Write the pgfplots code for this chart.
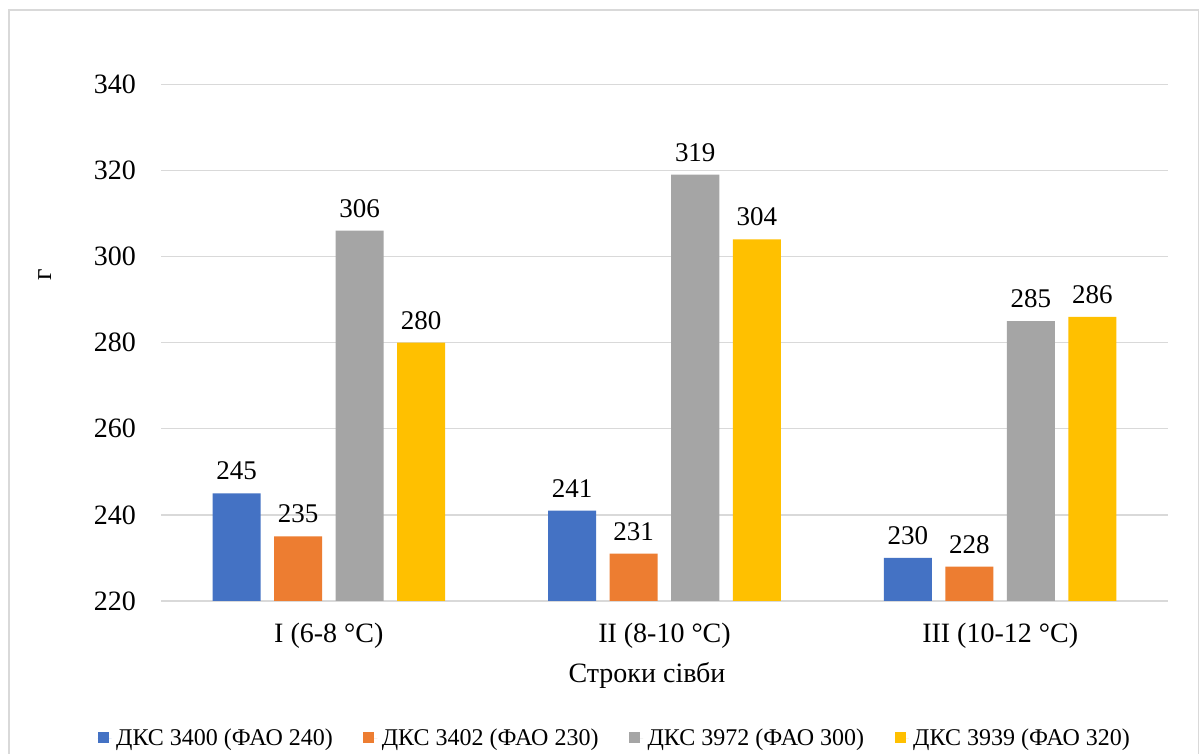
\documentclass[border=0pt]{standalone}
\usepackage{fontspec}
\setmainfont{Liberation Serif}
\usepackage{pgfplots}
\pgfplotsset{compat=1.18}
\definecolor{c1}{HTML}{4472C4}
\definecolor{c2}{HTML}{ED7D31}
\definecolor{c3}{HTML}{A5A5A5}
\definecolor{c4}{HTML}{FFC000}
\definecolor{gridc}{HTML}{D9D9D9}
\pgfplotsset{sqleg/.style={legend image code/.code={\fill[##1,draw=none] (0pt,-4.5pt) rectangle (11pt,6.5pt); \path (0pt,0pt) -- (14pt,0pt);}}}
\begin{document}
\begin{tikzpicture}
\useasboundingbox (0,0) rectangle (1200pt,754pt);
\fill[white] (0,0) rectangle (1200pt,754pt);
\draw[gridc, line width=1.5pt] (9pt,0pt) -- (9pt,744pt) -- (1198.5pt,744pt) -- (1198.5pt,0pt);
\begin{axis}[
  at={(161pt,153pt)}, anchor=south west,
  width=1007pt, height=516.7pt, scale only axis,
  ybar=13.5pt, bar width=48pt,
  xmin=-0.5, xmax=2.5, ymin=220, ymax=340,
  xtick={0,1,2},
  xticklabels={I (6-8 °C), II (8-10 °C), III (10-12 °C)},
  ytick={220,240,260,280,300,320,340},
  /pgf/number format/assume math mode=true,
  ymajorgrids, grid style={gridc, line width=1.3pt},
  axis x line*=bottom, axis y line*=left,
  x axis line style={gridc, line width=1.3pt, -},
  y axis line style={draw=none, -},
  major tick length=0pt, tick style={draw=none},
  yticklabel style={anchor=east, inner sep=0pt, xshift=-25pt, font=\fontsize{28}{32}\selectfont},
  xticklabel style={anchor=base, inner sep=0pt, yshift=-42pt, font=\fontsize{28}{32}\selectfont},
  xlabel={Строки сівби},
  xlabel style={at={(rel axis cs:0.4826,-0.1587)}, anchor=base, inner sep=0pt, font=\fontsize{28}{32}\selectfont},
  ylabel={г},
  ylabel style={at={(rel axis cs:-0.1152,0.631)}, anchor=center, rotate=0, inner sep=0pt, font=\fontsize{28}{32}\selectfont},
  nodes near coords,
  nodes near coords style={anchor=south, inner sep=0pt, yshift=13pt, font=\fontsize{27}{31}\selectfont, black},
  every axis plot post/.append style={sqleg},
  legend columns=4,
  legend style={at={(rel axis cs:0.4519,-0.2655)}, anchor=center, draw=none, fill=none,
    font=\fontsize{24}{28}\selectfont,
    /tikz/every even column/.append style={column sep=26pt},
    nodes={inner xsep=4.5pt, inner ysep=1pt}},
]
\addplot[fill=c1, draw=none] coordinates {(0,245) (1,241) (2,230)};
\addplot[fill=c2, draw=none] coordinates {(0,235) (1,231) (2,228)};
\addplot[fill=c3, draw=none] coordinates {(0,306) (1,319) (2,285)};
\addplot[fill=c4, draw=none] coordinates {(0,280) (1,304) (2,286)};
\legend{ДКС 3400 (ФАО 240), ДКС 3402 (ФАО 230), ДКС 3972 (ФАО 300), ДКС 3939 (ФАО 320)}
\end{axis}
\end{tikzpicture}
\end{document}
